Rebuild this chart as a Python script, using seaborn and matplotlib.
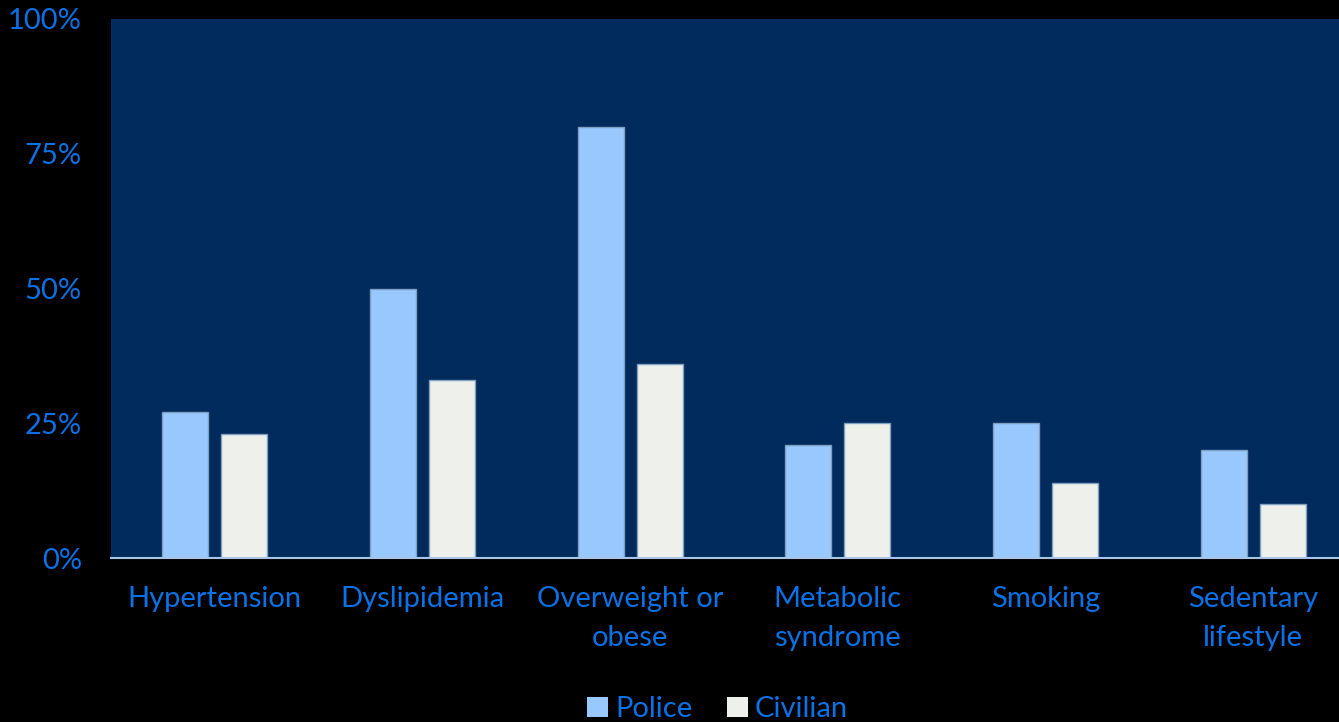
import pandas as pd
import matplotlib.pyplot as plt
import seaborn as sns
from matplotlib.patches import Patch

# Data (percent)
categories = ["Hypertension", "Dyslipidemia", "Overweight or\nobese",
              "Metabolic\nsyndrome", "Smoking", "Sedentary\nlifestyle"]
police = [27, 50, 80, 21, 25, 20]
civilian = [23, 33, 36, 25, 14, 10]
groups = ["Police", "Civilian"]
y_ticks = [0, 25, 50, 75, 100]

df = pd.DataFrame({
    "category": categories * 2,
    "group": ["Police"] * len(categories) + ["Civilian"] * len(categories),
    "value": police + civilian,
})

bg_plot = "#002B5C"
text_blue = "#0A72E6"
colors = {"Police": "#99C8FF", "Civilian": "#EEF0EC"}

sns.set_theme(style="white")
plt.rcParams["font.family"] = ["Lato", "DejaVu Sans"]

fig = plt.figure(figsize=(13.39, 7.22), dpi=100, facecolor="black")
ax = fig.add_axes([0.0829, 0.2271, 0.9306, 0.7466])
ax.set_facecolor(bg_plot)

sns.barplot(data=df, x="category", y="value", hue="group", hue_order=groups,
            palette=colors, saturation=1, width=0.568, gap=0.22, linewidth=1,
            edgecolor="#7F9FC0", legend=False, ax=ax)

ax.set_xlim(-0.5, len(categories) - 0.5)
ax.set_ylim(0, 100)
ax.set_yticks(y_ticks)
ax.set_yticklabels([f"{t}%" for t in y_ticks])
ax.set_xlabel("")
ax.set_ylabel("")
ax.tick_params(axis="both", length=0, labelsize=21, labelcolor=text_blue)
ax.tick_params(axis="x", pad=20)
ax.tick_params(axis="y", pad=21)
for lbl in ax.get_xticklabels():
    lbl.set_linespacing(1.65)

for side in ["top", "right", "left"]:
    ax.spines[side].set_visible(False)
ax.spines["bottom"].set_color("#A9C4E6")
ax.spines["bottom"].set_linewidth(1.5)

handles = [Patch(facecolor=colors[g], edgecolor="none", label=g) for g in groups]
leg = fig.legend(handles=handles, loc="center", bbox_to_anchor=(0.536, 0.018),
                 ncol=2, frameon=False, fontsize=21, handlelength=0.7,
                 handleheight=0.7, handletextpad=0.25, columnspacing=1.2)
for t in leg.get_texts():
    t.set_color(text_blue)

fig.savefig("out.png", dpi=100, facecolor="black")
